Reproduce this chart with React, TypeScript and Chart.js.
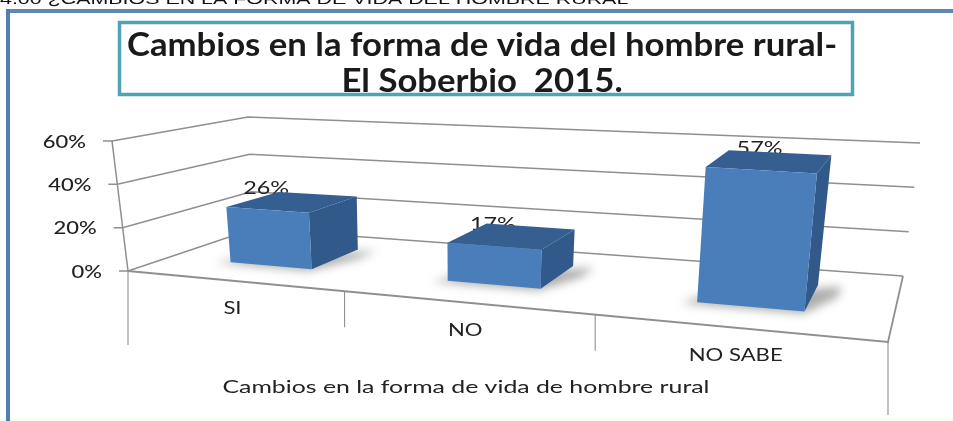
import { useEffect, useRef } from "react";
import { Chart, registerables } from "chart.js";

Chart.register(...registerables);

const categories = ["SI", "NO", "NO SABE"];
const percentages = [26, 17, 57];
const axisTicks = [0, 20, 40, 60];
const chartTitle = ["Cambios en la forma de vida del hombre rural-", "El Soberbio  2015."];
const axisTitle = "Cambios en la forma de vida de hombre rural";
const clippedCaption = "4.00 ¿CAMBIOS EN LA FORMA DE VIDA DEL HOMBRE RURAL";

// Layout of the 3D box (screen position of the floor corners, wall heights and tilts)
const FL = [128, 271], FR = [888, 342], BR = [903, 276], BL = [253, 229];
const HEIGHT_CORNERS = { fl: 130, fr: 154, br: 133, bl: 112 };
const TILT_CORNERS = { fl: -0.123, fr: 0.103, br: 0.128, bl: -0.045 };
const DEPTH_FRONT = 0.3, DEPTH_BACK = 0.73;
const FONT = "Lato, Carlito, sans-serif";
const TEXT_STRETCH = 1.3;
const TITLE_STRETCH = 1.085;
const TITLE_CENTER = 481.5;

function bilinear(c: { fl: number; fr: number; br: number; bl: number }, u: number, v: number) {
  return (c.fl * (1 - u) + c.fr * u) * (1 - v) + (c.bl * (1 - u) + c.br * u) * v;
}

function makeProjector() {
  const [x0, y0] = FL, [x1, y1] = FR, [x2, y2] = BR, [x3, y3] = BL;
  const sx = x0 - x1 + x2 - x3, sy = y0 - y1 + y2 - y3;
  const dx1 = x1 - x2, dx2 = x3 - x2, dy1 = y1 - y2, dy2 = y3 - y2;
  const den = dx1 * dy2 - dx2 * dy1;
  const g = (sx * dy2 - dx2 * sy) / den, h = (dx1 * sy - sx * dy1) / den;
  const a = x1 - x0 + g * x1, b = x3 - x0 + h * x3, c = x0;
  const d = y1 - y0 + g * y1, e = y3 - y0 + h * y3, f = y0;
  return (uIn: number, v: number, t: number): [number, number] => {
    const u = uIn + 0.047 * uIn * (1 - uIn);
    const w = g * u + h * v + 1;
    const px = (a * u + b * v + c) / w, py = (d * u + e * v + f) / w;
    const H = bilinear(HEIGHT_CORNERS, u, v) * t;
    return [px + H * bilinear(TILT_CORNERS, u, v), py - H];
  };
}
const project = makeProjector();

function poly(ctx: CanvasRenderingContext2D, pts: number[][], fill: string) {
  ctx.beginPath();
  pts.forEach((p, i) => (i ? ctx.lineTo(p[0], p[1]) : ctx.moveTo(p[0], p[1])));
  ctx.closePath();
  ctx.fillStyle = fill;
  ctx.fill();
}
function line(ctx: CanvasRenderingContext2D, pts: number[][]) {
  ctx.beginPath();
  pts.forEach((p, i) => (i ? ctx.lineTo(p[0], p[1]) : ctx.moveTo(p[0], p[1])));
  ctx.stroke();
}
function wideText(ctx: CanvasRenderingContext2D, text: string, x: number, y: number, stretch: number) {
  ctx.save();
  ctx.translate(x, y);
  ctx.scale(stretch, 1);
  ctx.fillText(text, 0, 0);
  ctx.restore();
}

const box3d = {
  id: "box3d",
  beforeDraw(chart: any) {
    // the chart title is drawn by the library under this horizontal stretch
    chart.ctx.save();
    chart.ctx.setTransform(TITLE_STRETCH, 0, 0, 1, TITLE_CENTER * (1 - TITLE_STRETCH), 0);
  },
  beforeDatasetsDraw(chart: any) {
    const ctx: CanvasRenderingContext2D = chart.ctx;
    ctx.restore();
    const area = chart.chartArea;
    const yScale = chart.scales.y, xScale = chart.scales.x;
    const hOf = (val: number) => (area.bottom - yScale.getPixelForValue(val)) / (area.bottom - area.top);
    ctx.save();

    // page decoration: clipped caption and outer frame
    ctx.fillStyle = "#111";
    ctx.font = "15.2px 'Liberation Sans'";
    ctx.textAlign = "left";
    ctx.textBaseline = "alphabetic";
    wideText(ctx, clippedCaption, 0, 4, 1.41);
    ctx.fillStyle = "#f4fff0";
    ctx.fillRect(0, 418, 953, 3);
    ctx.fillStyle = "#5f88ac";
    ctx.fillRect(6, 9, 947, 4);
    ctx.fillStyle = "#4f81b0";
    ctx.fillRect(6, 9, 4, 412);

    // title box
    ctx.strokeStyle = "#4fa3b5";
    ctx.lineWidth = 3.5;
    ctx.strokeRect(119.5, 22.5, 733, 72);

    // walls and floor
    ctx.strokeStyle = "#8f8f8f";
    ctx.lineWidth = 1.5;
    yScale.ticks.forEach((tick: any) => {
      const t = hOf(tick.value);
      const left = project(0, 0, t);
      line(ctx, [[left[0] - 9, left[1]], left, project(0, 1, t), project(1, 1, t)]);
    });
    line(ctx, [project(0, 0, 0), project(0, 0, 1)]);
    ctx.lineWidth = 1.8;
    line(ctx, [FL, FR, BR]);
    ctx.lineWidth = 1.1;
    const n = categories.length;
    const drops = [74, 36, 36, 73];
    for (let i = 0; i <= n; i++) {
      const p = project(i / n, 0, 0);
      line(ctx, [p, [p[0], p[1] + drops[i]]]);
    }

    // value axis labels
    ctx.fillStyle = "#222";
    ctx.font = `500 18px ${FONT}`;
    ctx.textAlign = "right";
    ctx.textBaseline = "middle";
    yScale.ticks.forEach((tick: any) => {
      const p = project(0, 0, hOf(tick.value));
      wideText(ctx, tick.label, p[0] - 26, p[1] + 1, 1.22);
    });

    // category labels
    ctx.textAlign = "center";
    ctx.font = `17px ${FONT}`;
    categories.forEach((_, i) => {
      const label = xScale.getLabelForValue(i);
      const p = project((i + 0.5) / n, 0, 0);
      wideText(ctx, label, p[0], p[1] + 28, TEXT_STRETCH);
    });

    // x axis title
    ctx.font = `17px ${FONT}`;
    wideText(ctx, xScale.options.title.text, 466, 388, 1.46);

    const meta = chart.getDatasetMeta(0);
    const ds = chart.data.datasets[0];
    const span = area.right - area.left;

    // data labels, behind the bars
    ctx.font = `18px ${FONT}`;
    ctx.fillStyle = "#222";
    meta.data.forEach((bar: any, i: number) => {
      const uMid = (bar.x - area.left) / span;
      const t = hOf(ds.data[i]);
      const p = project(uMid, DEPTH_FRONT, t);
      wideText(ctx, `${ds.data[i]}%`, p[0] - 1, p[1] - 22, TEXT_STRETCH);
    });

    // bars
    meta.data.forEach((bar: any, i: number) => {
      const u0 = (bar.x - bar.width / 2 - area.left) / span;
      const u1 = (bar.x + bar.width / 2 - area.left) / span;
      const t = hOf(ds.data[i]);
      const d0 = DEPTH_FRONT, d1 = DEPTH_BACK;
      // floor shadow
      ctx.save();
      ctx.filter = "blur(5px)";
      poly(ctx, [project(u0 - 0.018, d0 - 0.03, 0), project(u1, d0 - 0.03, 0), project(u1 + 0.03, d0 + 0.25, 0), project(u1 + 0.03, d1, 0), project(u0, d0 + 0.1, 0)], "rgba(90,90,90,0.5)");
      ctx.restore();
      ctx.save();
      ctx.filter = "blur(0.5px)";
      const f00 = project(u0, d0, 0), f10 = project(u1, d0, 0), f01 = project(u0, d0, t), f11 = project(u1, d0, t);
      const b10 = project(u1, d1, 0), b01 = project(u0, d1, t), b11 = project(u1, d1, t);
      poly(ctx, [f01, f11, b11, b01], ds.topColor);
      poly(ctx, [f10, b10, b11, f11], ds.sideColor);
      poly(ctx, [f00, f10, f11, f01], ds.backgroundColor);
      ctx.restore();
    });

    ctx.restore();
    return false;
  },
};

export default function App() {
  const ref = useRef<HTMLCanvasElement>(null);
  useEffect(() => {
    const chart = new Chart(ref.current!, {
      type: "bar",
      plugins: [box3d],
      data: {
        labels: categories,
        datasets: [
          {
            data: percentages,
            backgroundColor: "#4a7ebb",
            topColor: "#365f91",
            sideColor: "#31598a",
            barPercentage: 0.95,
            categoryPercentage: 0.41,
          } as any,
        ],
      },
      options: {
        responsive: false,
        animation: false,
        layout: { padding: { left: 11, right: 0, top: 0, bottom: 150 } },
        plugins: {
          legend: { display: false },
          tooltip: { enabled: false },
          title: {
            display: true,
            text: chartTitle,
            color: "#1a1a1a",
            font: { family: FONT, size: 32, weight: "bold", lineHeight: 1.14 },
            padding: { top: 27, bottom: 20 },
          },
        },
        scales: {
          x: {
            display: false,
            title: { display: false, text: axisTitle },
          },
          y: {
            display: false,
            min: 0,
            max: 60,
            afterBuildTicks: (s: any) => {
              s.ticks = axisTicks.map((value) => ({ value }));
            },
            ticks: { callback: (v: any) => `${v}%` },
          },
        },
      },
    } as any);
    return () => chart.destroy();
  }, []);
  return (
    <div style={{ position: "fixed", left: 0, top: 0, width: 953, height: 421, background: "#fff", overflow: "hidden" }}>
      <canvas ref={ref} width={953} height={421} style={{ display: "block" }} />
    </div>
  );
}
